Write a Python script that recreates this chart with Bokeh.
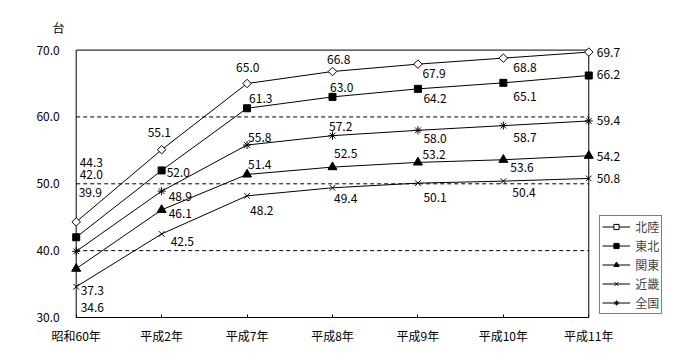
import numpy as np
from bokeh.plotting import figure
from bokeh.models import Range1d, FixedTicker, Legend, LegendItem
from bokeh.core.properties import value
from bokeh.embed import file_html
from bokeh.resources import INLINE

# ---- data ----
years = ["昭和60年", "平成2年", "平成7年", "平成8年", "平成9年", "平成10年", "平成11年"]
hokuriku = [44.3, 55.1, 65.0, 66.8, 67.9, 68.8, 69.7]
tohoku = [42.0, 52.0, 61.3, 63.0, 64.2, 65.1, 66.2]
kanto = [37.3, 46.1, 51.4, 52.5, 53.2, 53.6, 54.2]
kinki = [34.6, 42.5, 48.2, 49.4, 50.1, 50.4, 50.8]
zenkoku = [39.9, 48.9, 55.8, 57.2, 58.0, 58.7, 59.4]
y_ticks = [30, 40, 50, 60, 70]
unit = "台"

# ---- label placement (pixel offsets, style only) ----
dx_hok = [3.5, -14, -11, -5.5, 4.5, 10, 8]
dy_hok = [-59, -17, -16, -12, 9, 9.5, 0]
dx_toh = [3.5, 5, 2, -2.5, 5.5, 10, 8]
dy_toh = [-62.5, 2, -9.5, -9.5, 9.5, 13.5, -1]
dx_kan = [4.5, 7, 1, 1.5, 4.5, 7, 8]
dy_kan = [22, 4, -9.5, -13.5, -7.5, 8, 0.5]
dx_kin = [4.5, 9, 3, 1.5, 5.5, 9, 8]
dy_kin = [21, 8, 15, 11, 14, 11, 0]
dx_zen = [2.5, 7, 1, -3.5, 5.5, 10, 8]
dy_zen = [-58.5, 5, -8, -9, 8.5, 12, -0.5]

FONT = "Noto Sans CJK JP"
xs = list(range(len(years)))

# ---- geometry (pixels) ----
W, H = 692, 352
BL, BT = 20, 10
frame_w = W - BL
px_x = 85.43          # pixels per category step
px_y = 6.685          # pixels per value unit
axis_x_px = 75.7      # screen x of first category
axis_y_px = 317.0     # screen y of lowest value tick
x0 = xs[0] - (axis_x_px - BL) / px_x
x1 = x0 + frame_w / px_x
y0 = y_ticks[0] - (H - axis_y_px) / px_y
y1 = y_ticks[0] + (axis_y_px - BT) / px_y

p = figure(width=W, height=H, x_range=Range1d(x0, x1), y_range=Range1d(y0, y1),
           output_backend="svg", toolbar_location=None,
           min_border_left=BL, min_border_right=0, min_border_top=BT, min_border_bottom=0)
p.outline_line_color = None
p.background_fill_color = "white"
p.border_fill_color = "white"
p.xgrid.visible = False
p.ygrid.visible = False
p.yaxis.visible = False

p.xaxis.fixed_location = y_ticks[0]
p.xaxis.ticker = FixedTicker(ticks=xs)
p.xaxis.major_label_overrides = {i: y for i, y in enumerate(years)}
p.xaxis.major_tick_in = 3
p.xaxis.major_tick_out = 0
p.xaxis.minor_tick_line_color = None
p.xaxis.axis_line_color = None
p.xaxis.major_tick_line_color = "black"
p.xaxis.major_label_standoff = 9
p.xaxis.major_label_text_font = FONT
p.xaxis.major_label_text_font_size = "12px"
p.xaxis.major_label_text_color = "black"

# plot box and dashed grid lines (between first/last category)
p.quad(left=xs[0], right=xs[-1], bottom=y_ticks[0], top=y_ticks[-1],
       fill_color=None, line_color="black", line_width=1)
grid_vals = y_ticks[1:-1]
p.segment(x0=[xs[0]] * len(grid_vals), x1=[xs[-1]] * len(grid_vals), y0=grid_vals, y1=grid_vals,
          line_color="black", line_dash="4 3", line_width=1)

# y tick labels
p.text([xs[0]] * len(y_ticks), y_ticks, text=[f"{t:.1f}" for t in y_ticks], x_offset=-16.5,
       text_align="right", text_baseline="middle", text_font=value(FONT),
       text_font_size="12px", text_color="black")
# unit
p.text([xs[0]], [y_ticks[-1]], text=[unit], x_offset=-17.7, y_offset=-22.6,
       text_align="center", text_baseline="middle", text_font=value(FONT),
       text_font_size="12px", text_color="black")

series = [
    ("北陸", hokuriku, "square", dict(size=6, angle=np.pi / 4, fill_color="white", line_color="black"), dx_hok, dy_hok),
    ("東北", tohoku, "square", dict(size=7, fill_color="black", line_color="black"), dx_toh, dy_toh),
    ("関東", kanto, "triangle", dict(size=9, fill_color="black", line_color="black"), dx_kan, dy_kan),
    ("近畿", kinki, "x", dict(size=8, line_color="black"), dx_kin, dy_kin),
    ("全国", zenkoku, "asterisk", dict(size=8, line_color="black"), dx_zen, dy_zen),
]

items = []
for name, vals, marker, kw, dx, dy in series:
    lr = p.line(xs, vals, line_color="black", line_width=1)
    sr = p.scatter(xs, vals, marker=marker, line_width=1, **kw)
    p.text(xs, vals, text=[f"{v:.1f}" for v in vals], x_offset=dx, y_offset=dy,
           text_align="left", text_baseline="middle", text_font=value(FONT),
           text_font_size="12px", text_color="black")
    items.append(LegendItem(label=name, renderers=[lr, sr]))

legend = Legend(items=items, location=(599.3 - BL, H - 314))
legend.border_line_color = "black"
legend.border_line_width = 1
legend.background_fill_color = "white"
legend.background_fill_alpha = 1
legend.label_text_font = FONT
legend.label_text_font_size = "12px"
legend.glyph_width = 28
legend.glyph_height = 13
legend.label_height = 13
legend.label_standoff = 5
legend.padding = 2
legend.spacing = 2
legend.margin = 0
p.add_layout(legend)

open("out.html", "w").write(file_html(p, INLINE))
